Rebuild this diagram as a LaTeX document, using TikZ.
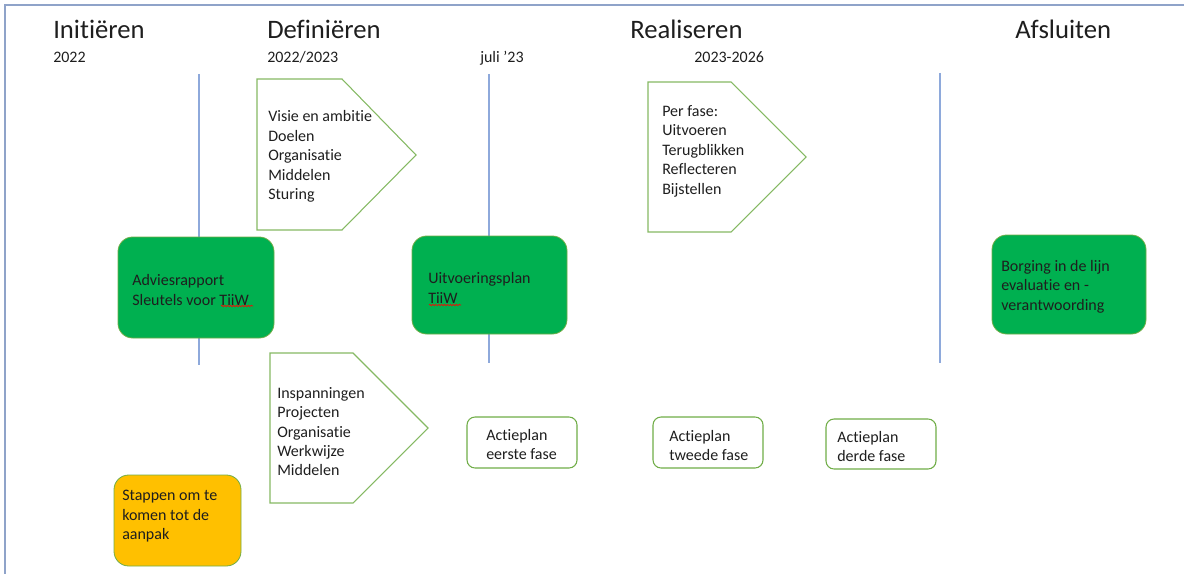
\documentclass[tikz,border=0pt]{standalone}
\usepackage{fontspec}
\setmainfont{Carlito}[Ligatures={NoCommon,NoRare,NoContextual}]
\usetikzlibrary{fit,decorations.pathmorphing}
\definecolor{frameblue}{RGB}{143,163,201}
\definecolor{lineblue}{RGB}{142,169,219}
\definecolor{okgreen}{RGB}{0,176,80}
\definecolor{edgegreen}{RGB}{112,173,71}
\definecolor{amber}{RGB}{255,192,0}
\definecolor{inktext}{RGB}{30,30,30}
\begin{document}
\begin{tikzpicture}[x=0.75pt,y=-0.75pt,
  head/.style={anchor=base west, inner sep=0, text=inktext, font=\fontsize{20}{24}\selectfont},
  sub/.style={anchor=base west, inner sep=0, text=inktext, font=\fontsize{12}{14}\selectfont},
  body/.style={anchor=west, inner sep=0, align=left, text=inktext, yshift=-1.2pt, font=\fontsize{12}{14.6}\selectfont},
  milestone/.style={draw=edgegreen, fill=okgreen, rounded corners=11pt, line width=0.6pt, inner sep=0},
  actie/.style={draw=edgegreen, fill=white, rounded corners=6pt, line width=0.8pt, inner sep=0},
  amberbox/.style={draw=edgegreen, fill=amber, rounded corners=11pt, line width=0.6pt, inner sep=0},
  pent/.style={draw=edgegreen!85, line width=0.8pt},
  tl/.style={draw=lineblue, line width=0.8pt},
  squiggle/.style={draw=red, line width=0.5pt, decorate, decoration={snake, amplitude=0.55pt, segment length=2.2pt}}
]
\useasboundingbox (0,0) rectangle (1184,574);

% frame
\draw[frameblue, line width=1.2pt] (5,574) -- (5,5) -- (1184,5);

% headers
\node[head] (h1) at (53,39) {Initiëren};
\node[sub]  (s1) at (53,63) {2022};
\node[head] (h2) at (267,39) {Definiëren};
\node[sub]  (s2) at (267,63) {2022/2023};
\node[sub]  (s3) at (480,63) {juli ’23};
\node[head] (h3) at (630,39) {Realiseren};
\node[sub]  (s4) at (694,63) {2023-2026};
\node[head] (h4) at (1015,39) {Afsluiten};

% timeline markers
\coordinate (m1t) at (199,74);  \coordinate (m1b) at (199,365);
\coordinate (m2t) at (489,74);  \coordinate (m2b) at (489,363);
\coordinate (m3t) at (940,73);  \coordinate (m3b) at (940,363);
\draw[tl] (m1t) -- (m1b);
\draw[tl] (m2t) -- (m2b);
\draw[tl] (m3t) -- (m3b);

% pentagons
\draw[pent] (257,79) -- (342,79) -- (416,155) -- (342,230) -- (257,230) -- cycle;
\node[body] (visie) at (268,155) {Visie en ambitie\\Doelen\\Organisatie\\Middelen\\Sturing};

\draw[pent] (648,82) -- (731,82) -- (806,157) -- (731,232) -- (648,232) -- cycle;
\node[body] (perfase) at (662,149.5) {Per fase:\\Uitvoeren\\Terugblikken\\Reflecteren\\Bijstellen};

\draw[pent] (270,353) -- (353,353) -- (428,428) -- (353,503) -- (270,503) -- cycle;
\node[body] (insp) at (277,430) {Inspanningen\\Projecten\\Organisatie\\Werkwijze\\Middelen};

% milestones
\node[milestone, fit={(118,237) (274,338)}] (advies) {};
\node[body] (adviestxt) at (132,288.5) {Adviesrapport\\Sleutels voor TiiW};
\draw[squiggle] (221,306) -- (253,306);

\node[milestone, fit={(412,236) (567,334)}] (uitv) {};
\node[body] (uitvtxt) at (428,286.5) {Uitvoeringsplan\\TiiW};
\draw[squiggle] (429,305) -- (461,305);

\node[milestone, fit={(992,235) (1146,334)}] (borg) {};
\node[body] (borgtxt) at (1001,285) {Borging in de lijn\\evaluatie en -\\verantwoording};

% action plans
\node[actie, fit={(467,417) (577,468)}] (a1) {};
\node[body] (a1txt) at (486,443) {Actieplan\\eerste fase};
\node[actie, fit={(653,417) (763,468)}] (a2) {};
\node[body] (a2txt) at (669,444) {Actieplan\\tweede fase};
\node[actie, fit={(826,419) (936,469)}] (a3) {};
\node[body] (a3txt) at (837,445) {Actieplan\\derde fase};

% orange box
\node[amberbox, fit={(114,475) (241,566)}] (stap) {};
\node[body] (staptxt) at (122,514.5) {Stappen om te\\komen tot de\\aanpak};
\end{tikzpicture}
\end{document}
